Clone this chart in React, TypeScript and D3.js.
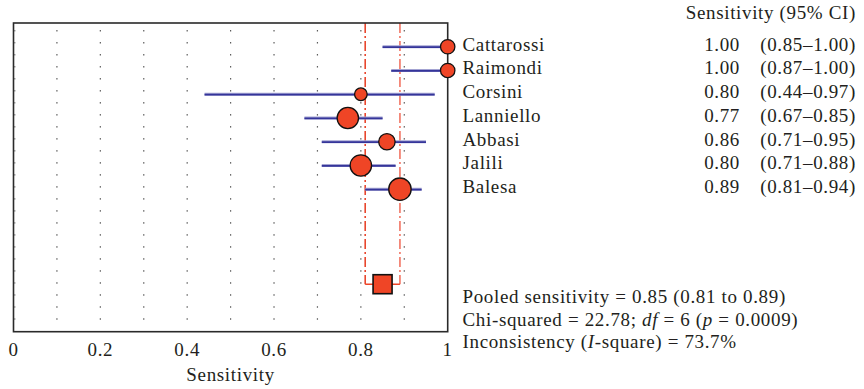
import React from "react";
import * as d3 from "d3";

const studies = ["Cattarossi", "Raimondi", "Corsini", "Lanniello", "Abbasi", "Jalili", "Balesa"];
const sens = [1.0, 1.0, 0.8, 0.77, 0.86, 0.8, 0.89];
const lower = [0.85, 0.87, 0.44, 0.67, 0.71, 0.71, 0.81];
const upper = [1.0, 1.0, 0.97, 0.85, 0.95, 0.88, 0.94];
const weights = [7.2, 7.2, 6.3, 10.7, 8.2, 10.7, 11.2];
const pooled = { est: 0.85, lo: 0.81, hi: 0.89 };
const xTicks = [0, 0.2, 0.4, 0.6, 0.8, 1];
const gridX = [0.1, 0.2, 0.3, 0.4, 0.5, 0.6, 0.7, 0.8, 0.9];
const gridRows = d3.range(0, 25);

const W = 864;
const H = 389;
const L = 13.5;
const R = 447.7;
const T = 23;
const B = 331.7;

const FONT = "'Liberation Serif', 'Times New Roman', serif";
const FS = 19;
const LS = 0.65;
const RED = "#ef4526";
const TXT = "#231f20";

export default function App() {
  const x = d3.scaleLinear().domain([0, 1]).range([L, R]);
  const y = d3.scaleLinear().domain([-1, 12]).range([T, B]);
  const gy = d3.scaleLinear().domain([0, 24]).range([30.8, 319]);
  const fmt = d3.format(".2f");

  return (
    <svg width={W} height={H} style={{ position: "absolute", left: 0, top: 0, background: "#fff" }} fontFamily={FONT}>
      {/* dotted grid */}
      {gridX.map((g) =>
        gridRows.map((r) => (
          <rect key={`${g}-${r}`} x={x(g) - 0.6} y={gy(r) - 0.6} width={1.2} height={1.2} fill="#333" />
        ))
      )}
      {/* left spine ticks */}
      {gridRows.map((r) => (
        <line key={`t${r}`} x1={L} x2={L + 2} y1={gy(r)} y2={gy(r)} stroke="#555" strokeWidth={0.8} />
      ))}
      {/* pooled CI dashed lines */}
      <line x1={x(pooled.lo)} x2={x(pooled.lo)} y1={T} y2={y(10)} stroke="#e8472e" strokeWidth={1.6} strokeDasharray="10,3,2,3" />
      <line x1={x(pooled.hi)} x2={x(pooled.hi)} y1={T} y2={y(10)} stroke="#f38474" strokeWidth={1.8} strokeDasharray="10,3,2,3" />
      <line x1={x(pooled.lo)} x2={x(pooled.hi)} y1={y(10)} y2={y(10)} stroke={RED} strokeWidth={1.4} />
      {/* study CIs */}
      {studies.map((s, i) => (
        <g key={s}>
          <line x1={x(lower[i])} x2={x(upper[i])} y1={y(i)} y2={y(i)} stroke="#a3a3d2" strokeWidth={3} />
          <line x1={x(lower[i])} x2={x(upper[i])} y1={y(i) + 0.4} y2={y(i) + 0.4} stroke="#35359a" strokeWidth={1.6} />
        </g>
      ))}
      {/* frame */}
      <rect x={L} y={T} width={R - L} height={B - T} fill="none" stroke="#2a2a2a" strokeWidth={1.6} />
      {/* study markers */}
      {studies.map((s, i) => (
        <circle key={`c${s}`} cx={x(sens[i])} cy={y(i)} r={weights[i]} fill={RED} stroke="#111" strokeWidth={1.3} />
      ))}
      {/* pooled square */}
      <rect x={x(pooled.est) - 9.5} y={y(10) - 9.5} width={19} height={19} fill={RED} stroke="#111" strokeWidth={1.6} />
      <g fontSize={FS} fill={TXT} letterSpacing={LS}>
        {/* x tick labels */}
        {xTicks.map((t) => (
          <text key={`xt${t}`} x={x(t)} y={356} textAnchor="middle">
            {String(t)}
          </text>
        ))}
        <text x={x(0.5)} y={381} textAnchor="middle">
          Sensitivity
        </text>
        {/* right table */}
        <text x={856} y={19} textAnchor="end">
          Sensitivity (95% CI)
        </text>
        {studies.map((s, i) => (
          <g key={`tx${s}`}>
            <text x={462.5} y={y(i) + 4}>{s}</text>
            <text x={740} y={y(i) + 4} textAnchor="end">{fmt(sens[i])}</text>
            <text x={856} y={y(i) + 4} textAnchor="end">
              ({fmt(lower[i])}–{fmt(upper[i])})
            </text>
          </g>
        ))}
        <text x={462.5} y={303}>
          Pooled sensitivity = {fmt(pooled.est)} ({fmt(pooled.lo)} to {fmt(pooled.hi)})
        </text>
        <text x={462.5} y={325.5}>
          Chi-squared = 22.78; <tspan fontStyle="italic">df</tspan> = 6 (<tspan fontStyle="italic">p</tspan> = 0.0009)
        </text>
        <text x={462.5} y={348}>
          Inconsistency (<tspan fontStyle="italic">I</tspan>-square) = 73.7%
        </text>
      </g>
    </svg>
  );
}
